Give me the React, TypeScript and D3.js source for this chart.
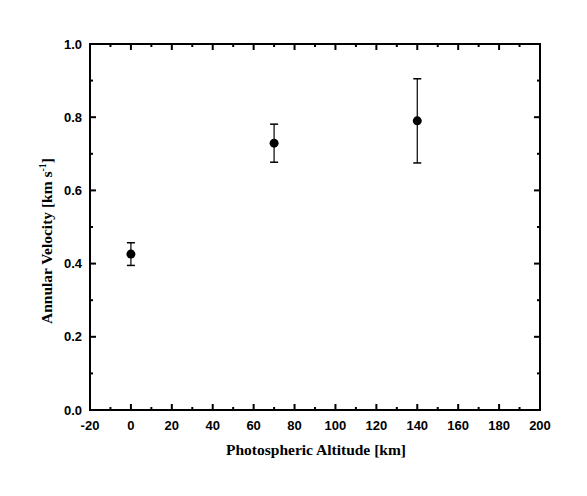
import React from "react";
import * as d3 from "d3";

const altitudes = [0, 70, 140];
const velocities = [0.426, 0.729, 0.79];
const errors = [0.031, 0.052, 0.115];
const xTicks = [-20, 0, 20, 40, 60, 80, 100, 120, 140, 160, 180, 200];
const yTicks = [0.0, 0.2, 0.4, 0.6, 0.8, 1.0];

const W = 587, H = 496;
const L = 90, R = 540, T = 44, B = 410;

export default function App() {
  const x = d3.scaleLinear().domain([-20, 200]).range([L, R]);
  const y = d3.scaleLinear().domain([0, 1]).range([B, T]);
  const xMinor = d3.range(-10, 200, 20);
  const yMinor = d3.range(0.1, 1, 0.2);
  const tickFont = "Arial, 'Liberation Sans', sans-serif";
  const titleFont = "'Times New Roman', 'Liberation Serif', serif";
  const data = altitudes.map((a, i) => ({ a, v: velocities[i], e: errors[i] }));
  return (
    <svg width={W} height={H} style={{ position: "absolute", left: 0, top: 0, background: "#fff" }}>
      <rect x={0} y={0} width={W} height={H} fill="#fff" />
      {xTicks.map((t) => (
        <g key={"xt" + t}>
          <line x1={x(t)} x2={x(t)} y1={B} y2={B - 6} stroke="#000" strokeWidth={2} />
          <line x1={x(t)} x2={x(t)} y1={T} y2={T + 6} stroke="#000" strokeWidth={2} />
          <text x={x(t)} y={429.5} textAnchor="middle" fontFamily={tickFont} fontWeight="bold" fontSize={13}>{t}</text>
        </g>
      ))}
      {xMinor.map((t) => (
        <g key={"xm" + t}>
          <line x1={x(t)} x2={x(t)} y1={B} y2={B - 3} stroke="#000" strokeWidth={2} />
          <line x1={x(t)} x2={x(t)} y1={T} y2={T + 3} stroke="#000" strokeWidth={2} />
        </g>
      ))}
      {yTicks.map((t) => (
        <g key={"yt" + t}>
          <line x1={L} x2={L + 6} y1={y(t)} y2={y(t)} stroke="#000" strokeWidth={2} />
          <line x1={R} x2={R - 6} y1={y(t)} y2={y(t)} stroke="#000" strokeWidth={2} />
          <text x={82} y={y(t) + 4.5} textAnchor="end" fontFamily={tickFont} fontWeight="bold" fontSize={13}>{t.toFixed(1)}</text>
        </g>
      ))}
      {yMinor.map((t) => (
        <g key={"ym" + t}>
          <line x1={L} x2={L + 3} y1={y(t)} y2={y(t)} stroke="#000" strokeWidth={2} />
          <line x1={R} x2={R - 3} y1={y(t)} y2={y(t)} stroke="#000" strokeWidth={2} />
        </g>
      ))}
      <rect x={L} y={T} width={R - L} height={B - T} fill="none" stroke="#000" strokeWidth={2} />
      {data.map((d, i) => (
        <g key={"p" + i}>
          <line x1={x(d.a)} x2={x(d.a)} y1={y(d.v + d.e)} y2={y(d.v - d.e)} stroke="#000" strokeWidth={1.2} />
          <line x1={x(d.a) - 4} x2={x(d.a) + 4} y1={y(d.v + d.e)} y2={y(d.v + d.e)} stroke="#000" strokeWidth={1.5} />
          <line x1={x(d.a) - 4} x2={x(d.a) + 4} y1={y(d.v - d.e)} y2={y(d.v - d.e)} stroke="#000" strokeWidth={1.5} />
          <circle cx={x(d.a)} cy={y(d.v)} r={4.5} fill="#000" />
        </g>
      ))}
      <text x={316} y={455} textAnchor="middle" fontFamily={titleFont} fontWeight="bold" fontSize={15.5}>Photospheric Altitude [km]</text>
      <text transform={`translate(52, 241) rotate(-90)`} textAnchor="middle" fontFamily={titleFont} fontWeight="bold" fontSize={15.5}>
        Annular Velocity [km s<tspan dy={-6} fontSize={10}>-1</tspan><tspan dy={6}>]</tspan>
      </text>
    </svg>
  );
}
